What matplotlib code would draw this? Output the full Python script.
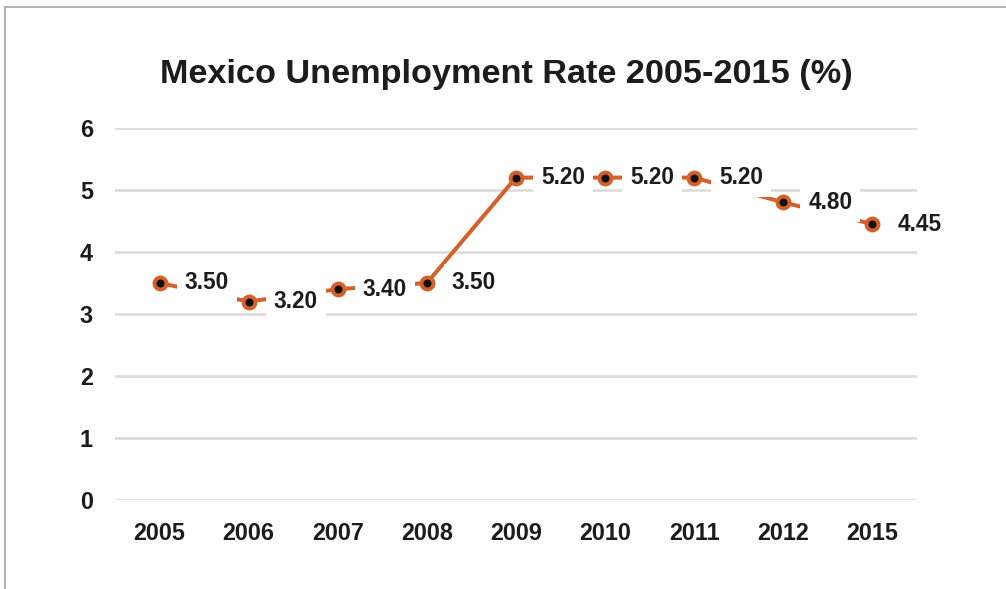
import matplotlib.pyplot as plt
from matplotlib.lines import Line2D

plt.rcParams['font.family'] = ['Liberation Sans', 'DejaVu Sans']

years = ['2005', '2006', '2007', '2008', '2009', '2010', '2011', '2012', '2015']
rates = [3.50, 3.20, 3.40, 3.50, 5.20, 5.20, 5.20, 4.80, 4.45]
y_ticks = [0, 1, 2, 3, 4, 5, 6]

line_color = '#D5602A'
text_color = '#1C1C1C'

fig = plt.figure(figsize=(10.06, 5.89), dpi=100)
ax = fig.add_axes([0.1143, 0.1511, 0.7972, 0.6316])

x = list(range(len(years)))
ax.plot(x, rates, color=line_color, linewidth=2.9, zorder=3)
ax.plot(x, rates, linestyle='none', marker='o', markersize=8.6,
        markerfacecolor='#111111', markeredgecolor=line_color,
        markeredgewidth=2.8, zorder=5)

# value labels sit on white boxes that hide the line behind them
for xi, v in zip(x, rates):
    ax.annotate(f'{v:.2f}', (xi, v), xytext=(18, 0), textcoords='offset points',
                ha='left', va='center', fontsize=16.3, fontweight='bold',
                color=text_color, zorder=4,
                bbox=dict(boxstyle='square,pad=0.35', facecolor='white',
                          edgecolor='none'))

ax.set_xlim(-0.5, len(years) - 0.5)
ax.set_ylim(0, 6)
ax.set_xticks(x)
ax.set_xticklabels(years)
ax.set_yticks(y_ticks)
ax.tick_params(length=0, labelsize=16.8, labelcolor=text_color, pad=16)
for lbl in ax.get_xticklabels() + ax.get_yticklabels():
    lbl.set_fontweight('bold')

ax.grid(axis='y', color='#E0DCD8', linewidth=2.0, zorder=0)
ax.set_axisbelow(True)
for s in ax.spines.values():
    s.set_visible(False)

fig.text(0.503, 1 - 74 / 589, 'Mexico Unemployment Rate 2005-2015 (%)',
         ha='center', va='center', fontsize=24.7, fontweight='bold',
         color=text_color)

# outer frame (left and top edges)
fig.add_artist(Line2D([5 / 1006, 5 / 1006], [0, 1 - 7 / 589],
                      color='#A8A8A8', linewidth=1.2))
fig.add_artist(Line2D([5 / 1006, 1], [1 - 7 / 589, 1 - 7 / 589],
                      color='#A8A8A8', linewidth=1.2))

fig.savefig('out.png', dpi=100)
